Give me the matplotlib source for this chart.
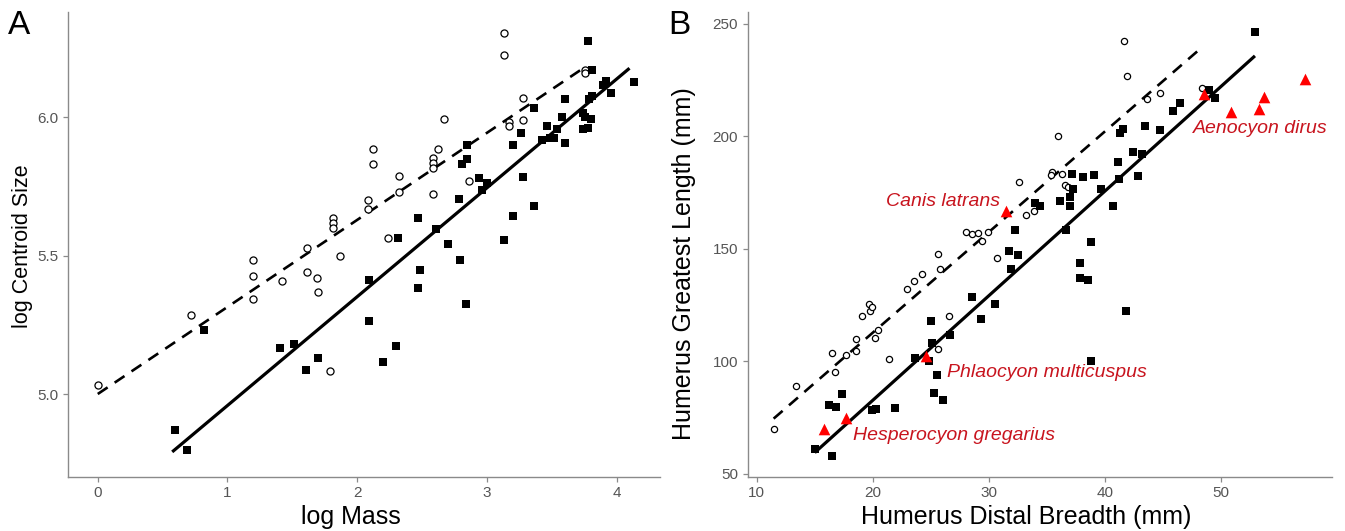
import matplotlib
matplotlib.use("Agg")
import matplotlib.pyplot as plt

plt.rcParams["font.family"] = ["Liberation Sans", "DejaVu Sans"]

# ---- panel A: log mass vs log centroid size ----
a_open_x = [0.00, 0.72, 1.195, 1.195, 1.195, 1.42, 1.61, 1.61, 1.69, 1.70, 1.87, 1.79,
            1.81, 1.81, 1.81, 2.08, 2.08, 2.12, 2.12, 2.24, 2.32, 2.32, 2.587, 2.587,
            2.587, 2.587, 2.625, 2.667, 2.864, 3.13, 3.13, 3.17, 3.17, 3.275, 3.275,
            3.756, 3.756]
a_open_y = [5.035, 5.286, 5.485, 5.427, 5.344, 5.408, 5.528, 5.441, 5.418, 5.369, 5.499, 5.084,
            5.635, 5.617, 5.600, 5.700, 5.670, 5.887, 5.830, 5.563, 5.787, 5.730, 5.854, 5.835,
            5.817, 5.723, 5.887, 5.994, 5.771, 6.303, 6.226, 5.983, 5.968, 6.071, 5.989,
            6.170, 6.160]
a_fill_x = [0.595, 0.685, 0.82, 1.405, 1.51, 1.605, 1.695, 2.095, 2.095, 2.20, 2.30, 2.318,
            2.467, 2.467, 2.485, 2.61, 2.70, 2.785, 2.79, 2.81, 2.838, 2.844, 2.844, 2.94,
            2.964, 3.0, 3.133, 3.20, 3.20, 3.26, 3.28, 3.36, 3.36, 3.425, 3.464, 3.485,
            3.52, 3.544, 3.58, 3.60, 3.60, 3.745, 3.745, 3.755, 3.78, 3.78, 3.79, 3.80,
            3.81, 3.81, 3.895, 3.92, 3.96, 4.133]
a_fill_y = [4.870, 4.800, 5.231, 5.167, 5.183, 5.087, 5.131, 5.412, 5.265, 5.117, 5.173, 5.564,
            5.638, 5.384, 5.449, 5.596, 5.541, 5.705, 5.484, 5.833, 5.326, 5.899, 5.849, 5.779,
            5.739, 5.763, 5.556, 5.899, 5.643, 5.943, 5.783, 6.035, 5.680, 5.917, 5.968, 5.924,
            5.924, 5.959, 6.000, 6.066, 5.906, 6.016, 5.956, 6.001, 6.277, 5.963, 6.066, 5.992,
            6.171, 6.076, 6.117, 6.131, 6.088, 6.126]
a_solid_x = [0.574, 4.10]
a_solid_y = [4.792, 6.177]
a_dash_x = [0.0, 3.74]
a_dash_y = [5.001, 6.176]

# ---- panel B: humerus distal breadth vs greatest length ----
b_open_x = [11.46, 13.42, 16.52, 16.75, 17.67, 18.53, 18.59, 19.07, 19.65, 19.79, 19.96, 20.48,
            20.22, 21.37, 22.95, 23.55, 24.24, 25.65, 25.76, 26.54, 25.65, 28.06, 28.58, 29.06,
            29.44, 29.96, 30.70, 32.57, 33.23, 33.88, 35.44, 35.38, 36.30, 36.59, 36.81, 35.99,
            41.64, 41.87, 43.59, 44.77, 48.33]
b_open_y = [70.1, 89.3, 103.6, 95.2, 102.9, 104.8, 110.1, 120.2, 125.6, 122.6, 124.4, 114.0,
            110.6, 101.1, 132.1, 135.8, 138.8, 147.6, 141.1, 120.2, 105.4, 157.7, 156.7, 157.0,
            153.6, 157.7, 145.9, 179.9, 165.1, 166.9, 184.2, 183.0, 183.5, 178.3, 177.4, 200.2,
            242.4, 226.9, 216.8, 219.2, 221.6]
b_fill_x = [15.0, 16.49, 16.23, 16.86, 17.38, 19.96, 20.25, 21.89, 23.61, 24.84, 24.99, 25.1,
            25.56, 25.25, 26.05, 26.68, 28.58, 29.35, 30.50, 31.73, 32.51, 31.88, 32.22, 33.99,
            34.44, 36.1, 36.61, 37.19, 38.1, 39.05, 37.25, 37.02, 37.02, 39.63, 38.83, 37.82,
            37.88, 38.57, 41.84, 38.83, 40.69, 41.09, 41.21, 42.88, 42.41, 43.22, 41.55, 41.33,
            43.42, 44.71, 45.83, 46.43, 48.96, 49.45, 52.92]
b_fill_y = [61.0, 58.0, 80.8, 79.6, 85.4, 78.4, 79.0, 79.5, 101.6, 100.2, 118.1, 108.1,
            94.0, 86.1, 82.9, 111.8, 128.8, 118.8, 125.4, 149.2, 147.3, 141.1, 158.6, 170.6,
            169.1, 171.2, 158.3, 183.5, 182.1, 183.0, 176.7, 173.2, 169.1, 176.8, 153.1, 143.6,
            137.3, 136.1, 122.4, 100.2, 169.1, 188.5, 181.0, 182.6, 193.3, 192.1, 203.5, 201.4,
            204.7, 202.9, 211.3, 214.8, 220.7, 217.2, 246.3]
b_tri_x = [15.77, 17.73, 24.62, 31.51, 48.5, 50.83, 53.24, 53.67, 57.2]
b_tri_y = [70.0, 75.0, 102.4, 166.7, 218.8, 210.8, 212.2, 217.4, 225.4]
b_solid_x = [15.0, 52.92]
b_solid_y = [59.5, 235.8]
b_dash_x = [11.46, 48.04]
b_dash_y = [74.6, 238.2]

species = ["Canis latrans", "Aenocyon dirus", "Phlaocyon multicuspus", "Hesperocyon gregarius"]

AXIS_GREY = "#8a8a8a"
TICK_TEXT = "#555555"
LABEL_RED = "#C8141E"


def style_axes(ax):
    for side in ["top", "right"]:
        ax.spines[side].set_visible(False)
    for side in ["left", "bottom"]:
        ax.spines[side].set_color(AXIS_GREY)
        ax.spines[side].set_linewidth(1.0)
    ax.tick_params(colors=AXIS_GREY, labelcolor=TICK_TEXT, labelsize=11, length=3.5, width=0.9)


fig = plt.figure(figsize=(13.45, 5.31), dpi=100)

# panel A
axA = fig.add_axes([0.0506, 0.1023, 0.4401, 0.8751])
axA.plot(a_solid_x, a_solid_y, color="black", lw=2.3, solid_capstyle="butt", zorder=2)
axA.plot(a_dash_x, a_dash_y, color="black", lw=1.9, dashes=(4.5, 3.2), zorder=2)
axA.scatter(a_open_x, a_open_y, s=26, marker="o", facecolors="white", edgecolors="black",
            linewidths=0.9, zorder=3)
axA.scatter(a_fill_x, a_fill_y, s=34, marker="s", color="black", linewidths=0, zorder=3)
axA.set_xlim(-0.229, 4.335)
axA.set_ylim(4.7025, 6.38)
axA.set_xticks([0, 1, 2, 3, 4])
axA.set_yticks([5.0, 5.5, 6.0])
axA.set_yticklabels(["5.0", "5.5", "6.0"])
style_axes(axA)

# panel B
axB = fig.add_axes([0.5559, 0.1023, 0.4342, 0.8751])
axB.plot(b_solid_x, b_solid_y, color="black", lw=2.3, solid_capstyle="butt", zorder=2)
axB.plot(b_dash_x, b_dash_y, color="black", lw=1.9, dashes=(4.5, 3.2), zorder=2)
axB.scatter(b_open_x, b_open_y, s=20, marker="o", facecolors="white", edgecolors="black",
            linewidths=0.9, zorder=3)
axB.scatter(b_fill_x, b_fill_y, s=26, marker="s", color="black", linewidths=0, zorder=3)
axB.scatter(b_tri_x, b_tri_y, s=70, marker="^", color="#FF0000", linewidths=0, zorder=4)
axB.set_xlim(9.225, 59.53)
axB.set_ylim(48.8, 255.3)
axB.set_xticks([10, 20, 30, 40, 50])
axB.set_yticks([50, 100, 150, 200, 250])
style_axes(axB)

# species labels
lab_kw = dict(color=LABEL_RED, fontsize=14, style="italic", va="center")
axB.text(30.93, 171.0, species[0], ha="right", **lab_kw)
axB.text(47.58, 203.6, species[1], ha="left", **lab_kw)
axB.text(26.39, 95.0, species[2], ha="left", **lab_kw)
axB.text(18.29, 67.3, species[3], ha="left", **lab_kw)

# axis titles and panel letters
fig.text(351 / 1345, 1 - 516.7 / 531, "log Mass", fontsize=18, ha="center", va="center")
fig.text(23 / 1345, 1 - 246 / 531, "log Centroid Size", fontsize=15.5, rotation=90,
         ha="center", va="center")
fig.text(1026 / 1345, 1 - 516.7 / 531, "Humerus Distal Breadth (mm)", fontsize=18,
         ha="center", va="center")
fig.text(684 / 1345, 1 - 264 / 531, "Humerus Greatest Length (mm)", fontsize=18, rotation=90,
         ha="center", va="center")
fig.text(19 / 1345, 1 - 26 / 531, "A", fontsize=24, ha="center", va="center")
fig.text(679 / 1345, 1 - 26 / 531, "B", fontsize=24, ha="center", va="center")

fig.savefig("out.png", dpi=100)
